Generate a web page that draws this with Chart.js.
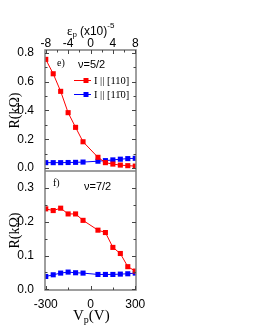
<!DOCTYPE html>
<html>
<head>
<meta charset="utf-8">
<script src="https://cdn.jsdelivr.net/npm/chart.js@4.4.0/dist/chart.umd.min.js"></script>
<style>
  html, body { margin: 0; padding: 0; background: #fff; }
  #c { display: block; }
</style>
</head>
<body>
<canvas id="c" width="255" height="330"></canvas>
<script>
// gate voltage (V) of each measured point
var vp = [-300, -250, -200, -150, -100, -50, 50, 100, 150, 200, 250, 300];

// nu = 5/2 panel (e), R in kOhm
var r52_110 = [0.755, 0.655, 0.533, 0.385, 0.283, 0.183, 0.075, 0.038, 0.028, 0.021, 0.017, 0.014];
var r52_1b10 = [0.038, 0.038, 0.038, 0.039, 0.040, 0.042, 0.048, 0.052, 0.057, 0.062, 0.066, 0.068];

// nu = 7/2 panel (f)
var r72_110 = [0.238, 0.233, 0.240, 0.223, 0.223, 0.204, 0.175, 0.168, 0.124, 0.106, 0.067, 0.054];
var r72_1b10 = [0.038, 0.043, 0.048, 0.051, 0.049, 0.048, 0.044, 0.044, 0.044, 0.045, 0.046, 0.048];

var seriesLabels = ['I || [110]', 'I || [11\u03040]'];

// ticks
var vpTicks = [-300, 0, 300];
var vpMinor = [-150, 150];
var epsTicks = [-8, -4, 0, 4, 8];
var epsMinor = [-6, -2, 2, 6];
var yTopTicks = [0, 0.2, 0.4, 0.6, 0.8];
var yTopMinor = [0.1, 0.3, 0.5, 0.7];
var yBotTicks = [0, 0.1, 0.2, 0.3];
var yBotMinor = [0.05, 0.15, 0.25];

function pts(ys) {
  return vp.map(function(v, i) { return { x: v, y: ys[i] }; });
}

function ds(label, ys, color, axis) {
  return {
    label: label,
    data: pts(ys),
    yAxisID: axis,
    borderColor: color,
    backgroundColor: color,
    borderWidth: 1,
    pointStyle: 'rect',
    pointRadius: 3.6,
    pointBorderWidth: 0,
    tension: 0
  };
}

var frameColor = '#7f7f7f';

var panels = {
  id: 'panels',
  afterDraw: function(chart) {
    var ctx = chart.ctx;
    var a = chart.chartArea;
    var x = chart.scales.x, x2 = chart.scales.x2;
    var yt = chart.scales.yTop, yb = chart.scales.yBot;
    ctx.save();

    // frame + divider
    ctx.strokeStyle = frameColor;
    ctx.lineWidth = 1.5;
    ctx.strokeRect(a.left, a.top, a.right - a.left, a.bottom - a.top);
    ctx.beginPath();
    ctx.moveTo(a.left, yt.bottom);
    ctx.lineTo(a.right, yt.bottom);
    ctx.stroke();

    // inward ticks
    ctx.lineWidth = 1;
    ctx.strokeStyle = '#444';
    function yt_(scale, vals, len) {
      vals.forEach(function(v) {
        var p = Math.round(scale.getPixelForValue(v)) + 0.5;
        ctx.beginPath();
        ctx.moveTo(a.left, p); ctx.lineTo(a.left + len, p);
        ctx.moveTo(a.right, p); ctx.lineTo(a.right - len, p);
        ctx.stroke();
      });
    }
    function xt_(scale, vals, len, yEdge, dir) {
      vals.forEach(function(v) {
        var p = Math.round(scale.getPixelForValue(v)) + 0.5;
        ctx.beginPath();
        ctx.moveTo(p, yEdge); ctx.lineTo(p, yEdge + dir * len);
        ctx.stroke();
      });
    }
    yt_(yt, yTopTicks, 4); yt_(yt, yTopMinor, 2.5);
    yt_(yb, yBotTicks, 4); yt_(yb, yBotMinor, 2.5);
    xt_(x, vpTicks, 4, a.bottom, -1); xt_(x, vpMinor, 2.5, a.bottom, -1);
    xt_(x2, epsTicks, 4, a.top, 1); xt_(x2, epsMinor, 2.5, a.top, 1);

    // axis titles
    ctx.fillStyle = '#000';
    ctx.textBaseline = 'alphabetic';
    ctx.font = '14px "Liberation Serif"';
    ctx.textAlign = 'center';
    [yt, yb].forEach(function(s) {
      ctx.save();
      ctx.translate(19, (s.top + s.bottom) / 2);
      ctx.rotate(-Math.PI / 2);
      ctx.fillText('R(k\u03A9)', 0, 0);
      ctx.restore();
    });

    ctx.textAlign = 'left';
    var bx = 73, by = 320;
    ctx.font = '15px "Liberation Serif"';
    ctx.fillText('V', bx, by); bx += ctx.measureText('V').width;
    ctx.font = '10px "Liberation Serif"';
    ctx.fillText('p', bx, by + 3); bx += ctx.measureText('p').width;
    ctx.font = '15px "Liberation Serif"';
    ctx.fillText('(V)', bx, by);

    var tx = 67, ty = 35;
    ctx.font = '13px "Liberation Serif"';
    ctx.fillText('\u03B5', tx, ty); tx += ctx.measureText('\u03B5').width;
    ctx.font = '8px "Liberation Sans"';
    ctx.fillText('p', tx, ty + 2); tx += ctx.measureText('p').width + 3;
    ctx.font = '12px "Liberation Sans"';
    ctx.fillText('(x10)', tx, ty); tx += ctx.measureText('(x10)').width;
    ctx.font = '8px "Liberation Sans"';
    ctx.fillText('-5', tx, ty - 7);

    // panel labels
    ctx.font = '10px "Liberation Serif"';
    ctx.fillText('e)', 57, 66);
    ctx.fillText('f)', 53, 186);
    ctx.font = '11px "Liberation Sans"';
    ctx.fillText('\u03BD=5/2', 78, 68);
    ctx.fillText('\u03BD=7/2', 84, 190);

    // legend
    var rows = [80, 94];
    [0, 1].forEach(function(i) {
      var d = chart.data.datasets[i];
      var ly = rows[i];
      ctx.strokeStyle = d.borderColor;
      ctx.lineWidth = 1;
      ctx.beginPath();
      ctx.moveTo(74, ly + 0.5); ctx.lineTo(91, ly + 0.5);
      ctx.stroke();
      ctx.fillStyle = d.borderColor;
      ctx.fillRect(83.5, ly - 2, 5, 5);
      ctx.fillStyle = '#000';
      ctx.font = '10.5px "Liberation Serif"';
      ctx.fillText(d.label, 94, ly + 4);
    });
    ctx.restore();
  }
};

new Chart(document.getElementById('c'), {
  type: 'line',
  data: {
    datasets: [
      ds(seriesLabels[0], r52_110, '#ff0000', 'yTop'),
      ds(seriesLabels[1], r52_1b10, '#0000ff', 'yTop'),
      ds(seriesLabels[0], r72_110, '#ff0000', 'yBot'),
      ds(seriesLabels[1], r72_1b10, '#0000ff', 'yBot')
    ]
  },
  options: {
    responsive: false,
    animation: false,
    layout: { padding: { left: 0, right: 119, top: 0, bottom: 0 } },
    plugins: { legend: { display: false }, tooltip: { enabled: false } },
    scales: {
      x: {
        type: 'linear', position: 'bottom', min: -305, max: 305,
        grid: { display: false }, border: { display: false },
        afterBuildTicks: function(s) { s.ticks = vpTicks.map(function(v) { return { value: v }; }); },
        afterFit: function(s) { s.height = 40; },
        ticks: { autoSkip: false, maxRotation: 0, padding: -1, color: '#000',
                 font: { family: 'Liberation Sans', size: 12 } }
      },
      x2: {
        type: 'linear', position: 'top', min: -8.13, max: 8.13,
        grid: { display: false }, border: { display: false },
        afterBuildTicks: function(s) { s.ticks = epsTicks.map(function(v) { return { value: v }; }); },
        afterFit: function(s) { s.height = 50; },
        ticks: { autoSkip: false, maxRotation: 0, padding: -9, color: '#000',
                 font: { family: 'Liberation Sans', size: 12 } }
      },
      yBot: {
        type: 'linear', position: 'left', stack: 'p', stackWeight: 119,
        min: -0.002, max: 0.35,
        grid: { display: false }, border: { display: false },
        afterBuildTicks: function(s) { s.ticks = yBotTicks.map(function(v) { return { value: v }; }); },
        afterFit: function(s) { s.width = 45; },
        ticks: { autoSkip: false, padding: 3, color: '#000',
                 font: { family: 'Liberation Sans', size: 12 },
                 callback: function(v) { return v.toFixed(1); } }
      },
      yTop: {
        type: 'linear', position: 'left', stack: 'p', stackWeight: 121,
        min: -0.02, max: 0.82,
        grid: { display: false }, border: { display: false },
        afterBuildTicks: function(s) { s.ticks = yTopTicks.map(function(v) { return { value: v }; }); },
        afterFit: function(s) { s.width = 45; },
        ticks: { autoSkip: false, padding: 3, color: '#000',
                 font: { family: 'Liberation Sans', size: 12 },
                 callback: function(v) { return v.toFixed(1); } }
      }
    }
  },
  plugins: [panels]
});
</script>
</body>
</html>
